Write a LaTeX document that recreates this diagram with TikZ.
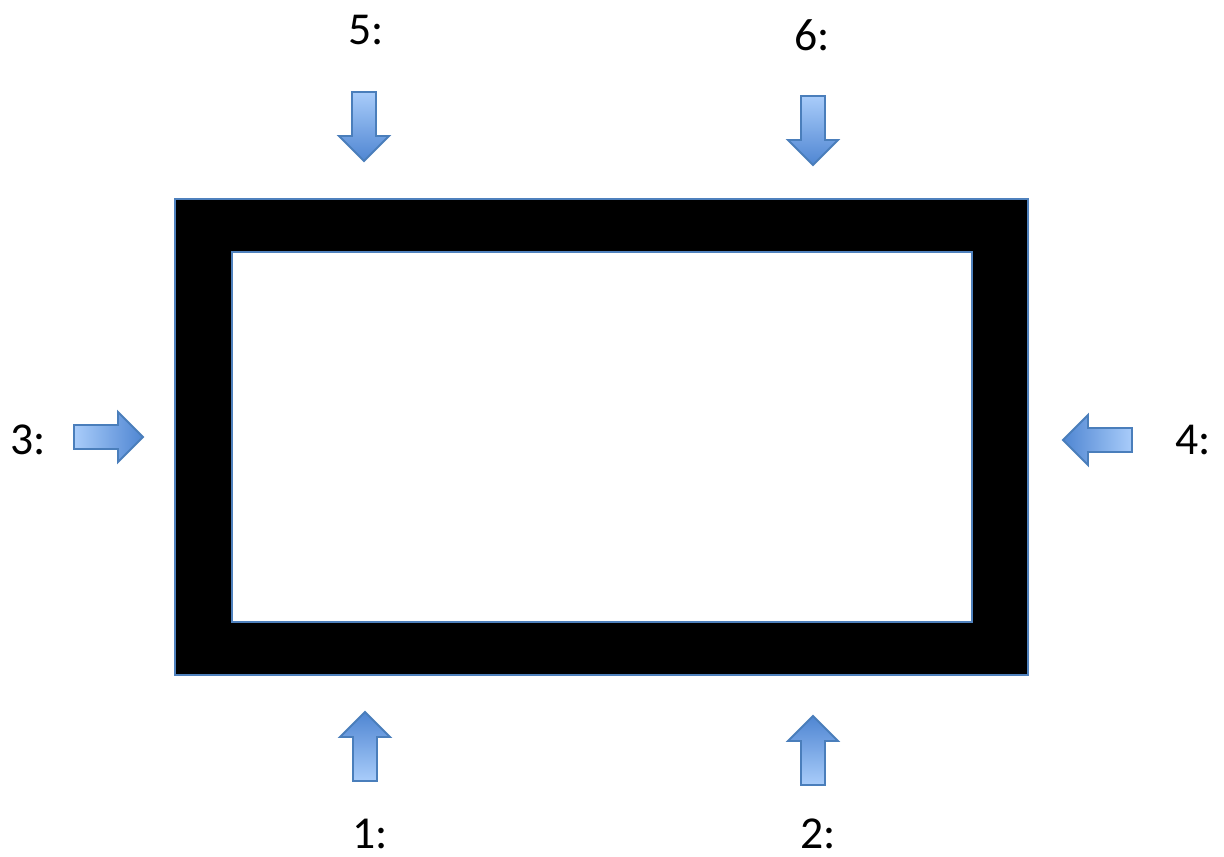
\documentclass[tikz,border=0pt]{standalone}
\usepackage{fontspec}
\setmainfont{Carlito}
\definecolor{arrowline}{HTML}{4A7EBB}
\definecolor{arrowlight}{HTML}{A9CCFA}
\definecolor{arrowdark}{HTML}{4F86D2}
\definecolor{frameline}{HTML}{4F81BD}
\tikzset{
  pics/blockarrow/.style={
    code={
      \draw[arrowline, line width=1.1pt, line join=miter,
            top color=arrowlight, bottom color=arrowdark, shading angle=#1]
        (0,-12) -- (44,-12) -- (44,-25) -- (69,0) -- (44,25) -- (44,12) -- (0,12) -- cycle;
    }
  },
  lbl/.style={font=\fontsize{26}{30}\selectfont, inner sep=0pt}
}
\begin{document}
\begin{tikzpicture}[x=0.02cm, y=-0.02cm]
  \useasboundingbox (0,0) rectangle (1224,856);

  \fill[black] (175,199) rectangle (1028,675);
  \fill[white] (232,252) rectangle (972,622);
  \draw[frameline, line width=1pt] (175,199) rectangle (1028,675);
  \draw[frameline, line width=1pt] (232,252) rectangle (972,622);

  \pic[rotate=-90] at (364,92) {blockarrow=0};
  \pic[rotate=-90] at (813,96) {blockarrow=0};
  \pic[rotate=90] at (365,781) {blockarrow=180};
  \pic[rotate=90] at (813,785) {blockarrow=180};
  \pic at (74,437) {blockarrow=90};
  \pic[rotate=180] at (1132,440) {blockarrow=-90};

  \node[lbl] (five) at (366,30) {5:};
  \node[lbl] (six) at (812,35) {6:};
  \node[lbl] (three) at (28,440) {3:};
  \node[lbl] (four) at (1193,440) {4:};
  \node[lbl] (one) at (370,834) {1:};
  \node[lbl] (two) at (818,834) {2:};
\end{tikzpicture}
\end{document}
